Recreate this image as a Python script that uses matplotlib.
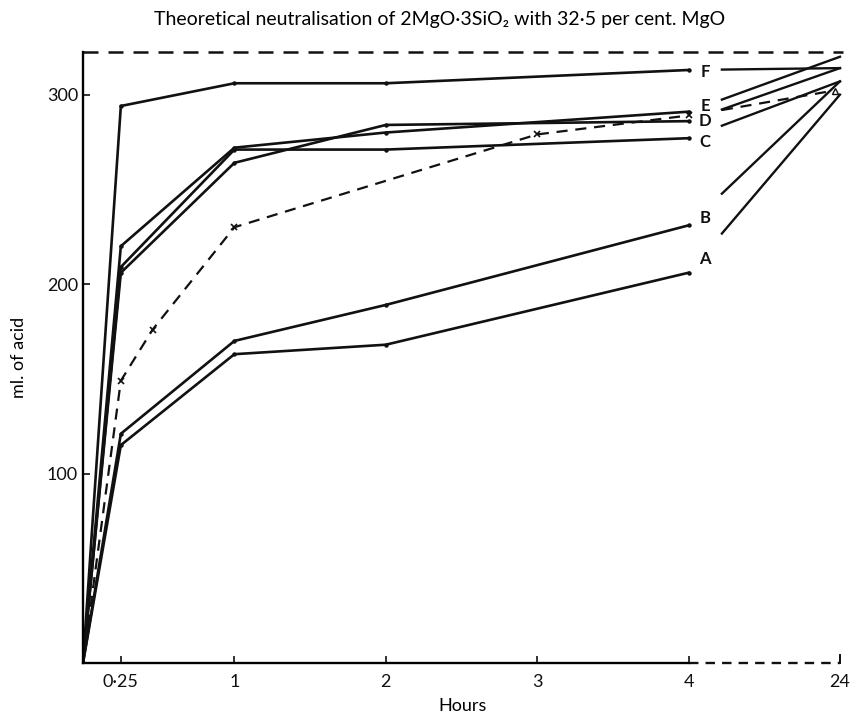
import matplotlib.pyplot as plt

plt.rcParams['font.family'] = ['Lato', 'DejaVu Sans']

# readings (ml. of acid) at 0, 0.25, 1, 2 and 4 hours, then at 24 hours
hours = [0, 0.25, 1, 2, 4]
curve_names = ['A', 'B', 'C', 'D', 'E', 'F']
acid_A = [0, 115, 163, 168, 206]
acid_B = [0, 121, 170, 189, 231]
acid_C = [0, 209, 271, 271, 277]
acid_D = [0, 206, 264, 284, 286]
acid_E = [0, 220, 272, 280, 291]
acid_F = [0, 294, 306, 306, 313]
acid_24h = [300, 307, 307, 314, 320, 314]

# dashed curve
dash_hours = [0, 0.25, 0.46, 1, 3, 4]
dash_acid = [0, 149, 176, 230, 279, 289]
dash_24h = 302

theoretical = 322.5

xtick_pos = [0.25, 1, 2, 3, 4, 5]
xtick_labels = ['0·25', '1', '2', '3', '4', '24']
ytick_pos = [100, 200, 300]

x24 = 5        # where "24" sits on the broken axis
gap = 0.22     # blank space after the 4 h point
label_dy = [7, 4, -2, 0, 3, -1]

fig = plt.figure(figsize=(8.62, 7.21), dpi=100)
ax = fig.add_axes([83/862, 58/721, 760/862, 611/721])
ink = '#111111'

all_curves = [acid_A, acid_B, acid_C, acid_D, acid_E, acid_F]
for name, vals, v24, dy in zip(curve_names, all_curves, acid_24h, label_dy):
    ax.plot(hours, vals, color=ink, lw=1.9, marker='o', ms=2.2, solid_joinstyle='miter')
    # broken-axis segment 4 h -> 24 h, only the part after the gap is drawn
    x0 = 4 + gap
    y0 = vals[-1] + (v24 - vals[-1]) * gap / (x24 - 4)
    ax.plot([x0, x24], [y0, v24], color=ink, lw=1.7)
    ax.text(4.11, vals[-1] + dy, name, fontsize=12, fontweight='bold',
            ha='center', va='center', color=ink)

ax.plot(dash_hours, dash_acid, color=ink, lw=1.6, ls=(0, (5, 3.5)))
ax.plot(dash_hours[1:], dash_acid[1:], ls='none', marker='x', ms=4, mew=1.2, color=ink)
x0 = 4 + gap
y0 = dash_acid[-1] + (dash_24h - dash_acid[-1]) * gap / (x24 - 4)
ax.plot([x0, x24 - 0.05], [y0, dash_24h], color=ink, lw=1.6, ls=(0, (5, 3.5)))
ax.plot([x24 - 0.03], [dash_24h], marker='^', ms=5, mfc='none', mec=ink, mew=1)

# theoretical neutralisation line along the top
ax.axhline(theoretical, color=ink, lw=1.8, ls=(0, (6, 4)), clip_on=False)

ax.set_xlim(0, 5.02)
ax.set_ylim(0, theoretical)
for s in ['top', 'right']:
    ax.spines[s].set_visible(False)
ax.spines['bottom'].set_bounds(0, 4)
ax.spines['left'].set_linewidth(1.7)
ax.spines['bottom'].set_linewidth(1.7)
ax.plot([4, x24], [0, 0], color=ink, lw=1.7, ls=(0, (4, 3)), clip_on=False)
ax.plot([x24, x24], [0, 4], color=ink, lw=1.4, clip_on=False)

ax.set_xticks(xtick_pos)
ax.set_xticklabels(xtick_labels)
ax.set_yticks(ytick_pos)
ax.tick_params(direction='in', length=5, width=1.2, labelsize=13, colors=ink)
ax.tick_params(axis='x', pad=8)

ax.set_xlabel('Hours', fontsize=13, labelpad=6)
ax.set_ylabel('ml. of acid', fontsize=13, labelpad=14)
fig.text(0.51, 1 - 20/721, 'Theoretical neutralisation of 2MgO·3SiO₂ with 32·5 per cent. MgO',
         ha='center', va='center', fontsize=14)

fig.savefig('out.png', dpi=100)
